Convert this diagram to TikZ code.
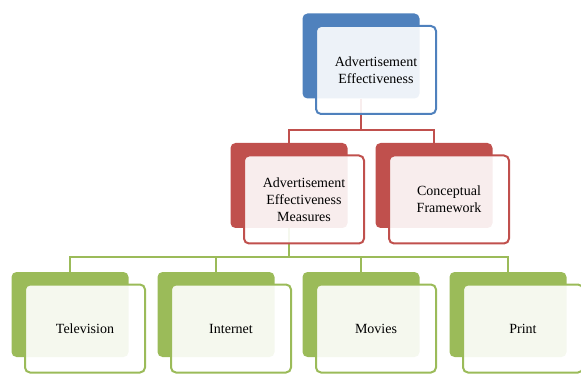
\documentclass[tikz,border=0pt]{standalone}
\usepackage{fontspec}
\setmainfont{Liberation Serif}
\definecolor{cblue}{HTML}{4F81BD}
\definecolor{cred}{HTML}{C0504D}
\definecolor{cgreen}{HTML}{9BBB59}
\tikzset{
 backbox/.style={fill=#1, rounded corners=5pt, minimum width=117pt, minimum height=85pt, inner sep=0pt},
 frontbox/.style={draw=#1, line width=2pt, fill=white, fill opacity=0.9, text opacity=1, rounded corners=5pt, minimum width=120pt, minimum height=88pt, inner sep=2pt, align=center, font=\fontsize{14}{17}\selectfont},
 conn/.style={draw=#1, line width=2.5pt},
}
\begin{document}
\begin{tikzpicture}[x=1pt,y=-1pt]
\useasboundingbox (0,0) rectangle (581,374);
% back boxes
\node[backbox=cblue]  (b0) at (361,56) {};
\node[backbox=cred]   (b1) at (289,185.5) {};
\node[backbox=cred]   (b2) at (434,185.5) {};
\node[backbox=cgreen] (b3) at (70,314.5) {};
\node[backbox=cgreen] (b4) at (216,314.5) {};
\node[backbox=cgreen] (b5) at (361,314.5) {};
\node[backbox=cgreen] (b6) at (508,314.5) {};
% connectors
\coordinate (busr) at (b0.south |- 0,130);
\draw[conn=cred] (b0.south) -- (busr);
\draw[conn=cred] (b1.north) |- (busr);
\draw[conn=cred] (b2.north) |- (busr);
\coordinate (busg) at (b1.south |- 0,257);
\draw[conn=cgreen] (b1.south) -- (busg);
\draw[conn=cgreen] (b3.north) |- (busg);
\draw[conn=cgreen] (b4.north) |- (busg);
\draw[conn=cgreen] (b5.north) |- (busg);
\draw[conn=cgreen] (b6.north) |- (busg);
% front boxes
\node[frontbox=cblue]  (f0) at ([shift={(15,14)}]b0) {Advertisement\\Effectiveness};
\node[frontbox=cred]   (f1) at ([shift={(15,14)}]b1) {Advertisement\\Effectiveness\\Measures};
\node[frontbox=cred]   (f2) at ([shift={(15,14)}]b2) {Conceptual\\Framework};
\node[frontbox=cgreen] (f3) at ([shift={(15,14)}]b3) {Television};
\node[frontbox=cgreen] (f4) at ([shift={(15,14)}]b4) {Internet};
\node[frontbox=cgreen] (f5) at ([shift={(15,14)}]b5) {Movies};
\node[frontbox=cgreen] (f6) at ([shift={(15,14)}]b6) {Print};
\end{tikzpicture}
\end{document}
